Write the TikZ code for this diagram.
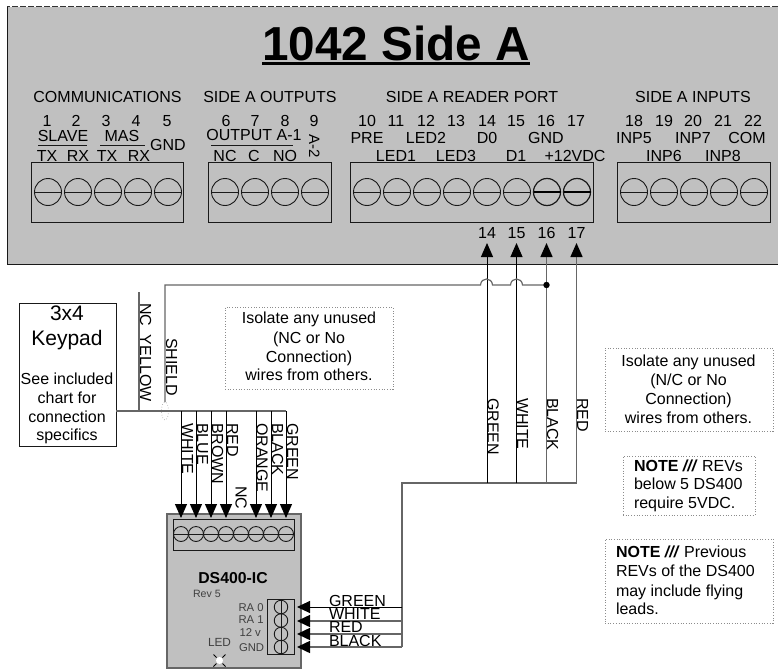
\documentclass[tikz,border=0pt]{standalone}
\usepackage{fontspec}
\setmainfont{Liberation Sans}
\usetikzlibrary{arrows.meta}
\newcommand{\fs}[1]{\fontsize{#1}{#1}\selectfont}
\tikzset{
  lbl/.style={inner sep=0pt,outer sep=0pt,anchor=base,font=\fs{16},text=black},
  llbl/.style={lbl,anchor=base west},
  vlbl/.style={lbl,rotate=-90,anchor=base west},
  small/.style={lbl,anchor=base west,font=\fs{11.3},text=black!75},
  termbox/.style={draw=black!90,line width=0.9pt,inner sep=0pt,outer sep=0pt,fill=panelgray},
  screw/.style={circle,draw=black!90,line width=0.9pt,inner sep=0pt,outer sep=0pt,minimum size=27pt},
  screwb/.style={screw,minimum size=15pt},
  screws/.style={screw,minimum size=13.5pt},
  notebox/.style={draw=black!45,dotted,line width=0.7pt,inner sep=0pt,outer sep=0pt},
  bwire/.style={draw=black,line width=1pt},
  gwire/.style={draw=wiregray,line width=1.5pt},
  downarrow/.style={-{Triangle[length=14pt,width=12pt,fill=black,color=black]}},
  sidearrow/.style={-{Triangle[length=13pt,width=12pt,fill=black,color=black]}},
}
\definecolor{panelgray}{HTML}{C0C0C0}
\definecolor{wiregray}{HTML}{666666}
\begin{document}
\begin{tikzpicture}[x=1pt,y=-1pt]
\useasboundingbox (0,0) rectangle (778,669);
% panel
\fill[panelgray] (7,7) rectangle (778,264);
\draw[black!80,line width=1pt,dash pattern=on 6pt off 2pt] (778,7) -- (7,7);
\draw[black!90,line width=0.9pt] (7,7) -- (7,264) -- (778,264);
\node[lbl,font=\bfseries\fs{47.7},text=black] (title) at (396,60) {1042 Side A};
\fill[black] (262,61.5) rectangle (530,65);
% headings
\node[lbl] (h1) at (107.5,102) {COMMUNICATIONS};
\node[lbl] (h2) at (270,102) {SIDE A OUTPUTS};
\node[lbl] (h3) at (472,102) {SIDE A READER PORT};
\node[lbl] (h4) at (693,102) {SIDE A INPUTS};
% terminal blocks
\node[termbox,minimum width=152.5pt,minimum height=60pt] (b1) at (107.25,192) {};
\node[termbox,minimum width=123pt,minimum height=60pt] (b2) at (269.5,192) {};
\node[termbox,minimum width=243pt,minimum height=60pt] (b3) at (471.5,192.5) {};
\node[termbox,minimum width=153pt,minimum height=60pt] (b4) at (693.5,192.5) {};
\foreach \i/\x in {1/48,2/78,3/108,4/138,5/168,6/225,7/255,8/285,9/315,10/367,11/397,12/427,13/457,14/487,15/517,18/634,19/664,20/694,21/724,22/754}{
  \node[screw] (s\i) at (\x,192) {};
  \draw[black!90,line width=0.9pt] (s\i.west) -- (s\i.east);
}
\foreach \i/\x in {16/547,17/577}{
  \node[screw,line width=1.2pt] (s\i) at (\x,192) {};
  \draw[black,line width=1.2pt] (s\i.west) -- (s\i.east);
}
% numbers
\foreach \i/\x/\t in {1/47/1,2/76/2,3/106/3,4/136/4,5/167/5,6/226/6,7/255/7,8/285/8,9/314/9,10/367/10,11/396/11,12/426/12,13/456/13,14/487/14,15/516/15,16/546/16,17/576/17,18/634/18,19/664/19,20/693/20,21/723/21,22/753/22}{
  \node[lbl] (num\i) at (\x,126) {\t};
}
% labels
\node[lbl] (slave) at (63,141) {SLAVE};
\node[lbl] (mas) at (122,141) {MAS};
\node[lbl] (gnd5) at (168,150) {GND};
\node[lbl] (outa) at (254,140) {OUTPUT A-1};
\draw[black!90,line width=0.8pt] (38,145) -- (87,145);
\draw[black!90,line width=0.8pt] (100,145) -- (145,145);
\draw[black!90,line width=0.8pt] (211,145) -- (293,145);
\foreach \i/\x/\t in {1/47/TX,2/78/RX,3/107/TX,4/139/RX,5/225/NC,6/254/C,7/285/NO}{
  \node[lbl] (sig\i) at (\x,161) {\t};
}
\node[vlbl,font=\fs{15}] (a2) at (309,134) {A-2};
\foreach \i/\x/\t in {1/367/PRE,2/426/LED2,3/487/D0,4/546/GND,5/634/INP5,6/693/INP7,7/747/COM}{
  \node[lbl] (up\i) at (\x,143) {\t};
}
\foreach \i/\x/\t in {1/396/LED1,2/456/LED3,3/516/D1,4/575/+12VDC,5/664/INP6,6/723/INP8}{
  \node[lbl] (lo\i) at (\x,161) {\t};
}
% reader port wires
\foreach \i/\x in {14/487,15/516.5,16/546.5,17/576.5}{
  \node[lbl] (pn\i) at (\x,238) {\i};
  \coordinate (tip\i) at (\x,243);
  \coordinate (bus\i) at (\x,483);
}
\coordinate (busL) at (402,483);
\coordinate (busB) at (402,647);
\draw[gwire] (busB) -- (busL) -- (bus17);
\draw[bwire,downarrow] (bus14) -- (tip14);
\draw[bwire,downarrow] (bus15) -- (tip15);
\draw[gwire,downarrow] (bus16) -- (tip16);
\draw[gwire,downarrow] (bus17) -- (tip17);
\node[vlbl] (wg) at (487.5,398) {GREEN};
\node[vlbl] (ww) at (517,398) {WHITE};
\node[vlbl] (wb) at (547,398) {BLACK};
\node[vlbl] (wr) at (577,398) {RED};
% shield
\coordinate (shA) at (165,402);
\coordinate (shB) at (165,285);
\coordinate (shC) at (546.5,285);
\draw[gwire,line width=1.2pt] (shA) -- (shB) -- (480.5,285)
  .. controls (481,277) and (492,277) .. (492.5,285) -- (510.5,285)
  .. controls (511,277) and (522,277) .. (522.5,285) -- (shC);
\fill[black] (shC) circle[radius=3.2pt];
\node[vlbl] (shl) at (166,338) {SHIELD};
\draw[black!30,dotted,line width=0.7pt] (165,411) ellipse[x radius=3.5pt,y radius=9pt];
% keypad
\node[draw=black!90,line width=0.9pt,fill=white,inner sep=0pt,outer sep=0pt,minimum width=97pt,minimum height=143pt] (kp) at (67.5,374.5) {};
\node[lbl,font=\fs{21}] (k1) at (67,320) {3x4};
\node[lbl,font=\fs{21}] (k2) at (67,345) {Keypad};
\node[lbl] (k3) at (67,384) {See included};
\node[lbl] (k4) at (67,403) {chart for};
\node[lbl] (k5) at (67,422) {connection};
\node[lbl] (k6) at (67,440) {specifics};
% keypad cable
\coordinate (cE) at (286,411);
\coordinate (ncT) at (139,292);
\coordinate (ncB) at (139,411);
\draw[gwire] (kp.east |- cE) -- (cE);
\draw[gwire] (ncT) -- (ncB);
\node[vlbl] (ncy) at (140,303) {NC\ \ YELLOW};
% notes
\node[notebox,minimum width=168pt,minimum height=82pt] (nb1) at (309,348) {};
\node[lbl] (n11) at (309,323) {Isolate any unused};
\node[lbl] (n12) at (309,343) {(NC or No};
\node[lbl] (n13) at (309,362) {Connection)};
\node[lbl] (n14) at (309,380) {wires from others.};
\node[notebox,minimum width=168pt,minimum height=83pt] (nb2) at (689,389.5) {};
\node[lbl] (n21) at (688.5,366) {Isolate any unused};
\node[lbl] (n22) at (688.5,385) {(N/C or No};
\node[lbl] (n23) at (688.5,404) {Connection)};
\node[lbl] (n24) at (688.5,423) {wires from others.};
\node[notebox,minimum width=132pt,minimum height=59pt] (nb3) at (689,485.5) {};
\node[llbl] (n31) at (634,471) {\textbf{NOTE} \textbf{\textit{///}} REVs};
\node[llbl] (n32) at (634,489) {below 5 DS400};
\node[llbl] (n33) at (634,508) {require 5VDC.};
\node[notebox,minimum width=168pt,minimum height=84pt] (nb4) at (689,581) {};
\node[llbl] (n41) at (616,557) {\textbf{NOTE} \textbf{\textit{///}} Previous};
\node[llbl] (n42) at (616,576) {REVs of the DS400};
\node[llbl] (n43) at (616,596) {may include flying};
\node[llbl] (n44) at (616,614) {leads.};
% DS400
\node[fill=panelgray,draw=black!60,line width=1.2pt,inner sep=0pt,outer sep=0pt,minimum width=134pt,minimum height=154pt] (ds) at (234,591) {};
\node[termbox,minimum width=121pt,minimum height=31pt] (dt) at (233.5,534.5) {};
\foreach \i/\x in {1/181,2/196,3/211,4/226,5/241,6/256,7/271,8/286}{
  \node[screwb] (d\i) at (\x,534) {};
  \draw[black!90,line width=0.9pt] (d\i.west) -- (d\i.east);
}
\foreach \i/\x in {1/181,2/196,3/211,4/226,6/256,7/271,8/286}{
  \coordinate (cj\i) at (\x,411);
  \coordinate (dtip\i) at (\x,518);
  \draw[bwire,downarrow] (cj\i) -- (dtip\i);
}
\node[vlbl] (w1) at (182,423) {WHITE};
\node[vlbl] (w2) at (197,423) {BLUE};
\node[vlbl] (w3) at (212,423) {BROWN};
\node[vlbl] (w4) at (227,423) {RED};
\node[vlbl] (w5) at (235.5,486) {NC};
\node[vlbl] (w6) at (256.5,423) {ORANGE};
\node[vlbl] (w7) at (272,423) {BLACK};
\node[vlbl] (w8) at (287,423) {GREEN};
\node[lbl,font=\bfseries\fs{15.8},text=black] (dsn) at (233,583) {DS400-IC};
\node[small,font=\fs{10.6}] (rev) at (193,597) {Rev 5};
\node[small] (ra0) at (238.5,611) {RA 0};
\node[small] (ra1) at (238.5,623) {RA 1};
\node[small] (v12) at (239.5,636) {12 v};
\node[small] (dg) at (239,651) {GND};
\node[small,font=\fs{11.8}] (led) at (208,646) {LED};
\fill[white] (219.5,660.5) circle[radius=3.5pt];
\draw[black,line width=0.9pt] (213.5,654.5) -- (216.5,657.5) (225.5,654.5) -- (222.5,657.5) (213.5,666.5) -- (216.5,663.5) (225.5,666.5) -- (222.5,663.5);
% small connector
\node[termbox,minimum width=27pt,minimum height=55pt] (rt) at (280.5,626.5) {};
\foreach \i/\y in {1/607,2/620.5,3/634,4/647}{
  \node[screws] (r\i) at (281,\y) {};
  \draw[black!90,line width=0.9pt] (r\i.north) -- (r\i.south);
}
\foreach \i/\y/\c in {1/607/bwire,2/621/gwire,3/634/gwire,4/647/gwire}{
  \coordinate (st\i) at (297,\y);
  \coordinate (sj\i) at (402,\y);
  \draw[\c,sidearrow] (sj\i) -- (st\i);
}
\node[llbl] (g1) at (329,606) {GREEN};
\node[llbl] (g2) at (329,619) {WHITE};
\node[llbl] (g3) at (329,632.5) {RED};
\node[llbl] (g4) at (329,646) {BLACK};
\end{tikzpicture}
\end{document}
